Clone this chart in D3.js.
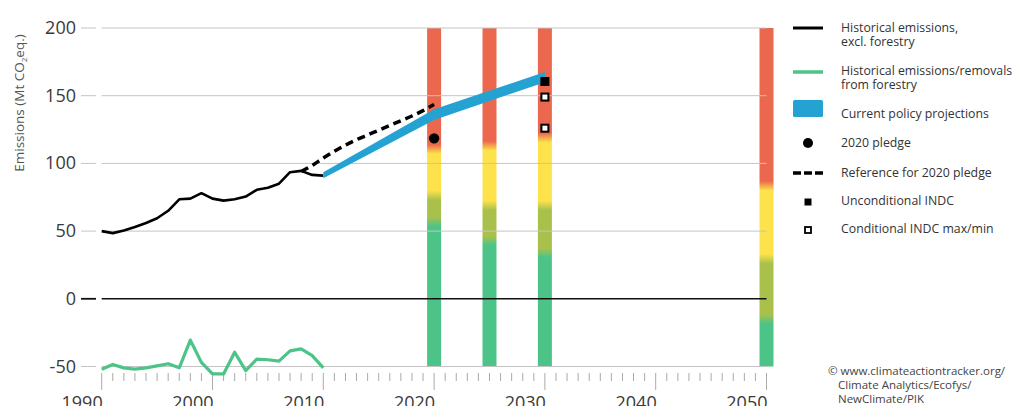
<!DOCTYPE html>
<html><head><meta charset="utf-8">
<script src="https://cdn.jsdelivr.net/npm/d3@7"></script>
<style>
html,body{margin:0;padding:0;background:#fff;}
svg{display:block;font-family:"Open Sans",sans-serif;}
</style></head>
<body><svg id="c" width="1012" height="406"></svg>
<script>
// ---- data ----
const histYears = [1990,1991,1992,1993,1994,1995,1996,1997,1998,1999,2000,2001,2002,2003,2004,2005,2006,2007,2008,2009,2010];
const histExclForestry = [50,48.5,50.5,53,56,59.5,65,73.5,74,78,74,72.5,73.5,75.5,80.5,82,85,93.5,94.5,91.5,91];
const forestry = [-52,-48.5,-51,-52,-51,-49.5,-48,-51,-30.5,-47,-55.5,-55.5,-39.5,-53,-44.5,-45,-46,-38.5,-37,-42,-51];
const refYears = [2008,2009,2010,2011,2012,2013,2014,2015,2016,2017,2018,2019,2020];
const refPledge = [94,98.5,104,109,113.5,117.5,121,124.5,128,131.5,135,139,143.5];
const cppYears = [2010,2020,2030];
const cppLow = [89,132,160];
const cppHigh = [93.5,140,167.5];
const pledgeYear = [2020];
const pledgeValue = [118.5];
const indcYear = [2030];
const indcUncond = [160.5];
const indcCond = [149,126];
const barYears = [2020,2025,2030,2050];
const barRedYellow = [110.5,113,119,83.5];
const barYellowOlive = [76.5,69,69,29.5];
const barOliveGreen = [57,43,34,-15];
const yTicks = [200,150,100,50,0,-50];
const xLabelYears = [1990,2000,2010,2020,2030,2040,2050];
const legendLabels = [["Historical emissions,","excl. forestry"],["Historical emissions/removals,","from forestry"],["Current policy projections"],["2020 pledge"],["Reference for 2020 pledge"],["Unconditional INDC"],["Conditional INDC max/min"]];
const creditLines = ["© www.climateactiontracker.org/","Climate Analytics/Ecofys/","NewClimate/PIK"];

const C = {red:"#EB684F",yellow:"#FDE24B",olive:"#A9C14B",green:"#4DC487",blue:"#24A3D3",hist:"#000",forest:"#4DC487",grid:"#c4c4c4"};

const svg = d3.select("#c");
const x = d3.scaleLinear().domain([1990,2050]).range([101.7,766.5]);
const y = d3.scaleLinear().domain([-50,200]).range([366.5,28]);

// bars with gradients
const defs = svg.append("defs");
const h = 3.5;
barYears.forEach((yr,i)=>{
  const g = defs.append("linearGradient").attr("id","bg"+i)
    .attr("gradientUnits","userSpaceOnUse").attr("x1",0).attr("x2",0)
    .attr("y1",y(200)).attr("y2",y(-50));
  const off = v => (y(v)-y(200))/(y(-50)-y(200));
  const stops = [[200,C.red],[barRedYellow[i]+h,C.red],[barRedYellow[i]-h,C.yellow],
    [barYellowOlive[i]+h,C.yellow],[barYellowOlive[i]-h,C.olive],
    [barOliveGreen[i]+h,C.olive],[barOliveGreen[i]-h,C.green],[-50,C.green]];
  stops.forEach(s=>g.append("stop").attr("offset",off(s[0])).attr("stop-color",s[1]));
});
svg.append("g").selectAll("rect").data(barYears).join("rect")
  .attr("x",d=>x(d)-7).attr("width",14)
  .attr("y",y(200)).attr("height",y(-50)-y(200))
  .attr("fill",(d,i)=>"url(#bg"+i+")");

// gridlines
svg.append("g").selectAll("line").data(yTicks).join("line")
  .attr("x1",x(1990)).attr("x2",x(2050))
  .attr("y1",d=>y(d)).attr("y2",d=>y(d))
  .attr("stroke",d=>d===0?"#111":C.grid)
  .attr("stroke-width",d=>d===0?1.6:1);
// y tick marks
svg.append("g").selectAll("line").data(yTicks).join("line")
  .attr("x1",81).attr("x2",96)
  .attr("y1",d=>y(d)).attr("y2",d=>y(d))
  .attr("stroke",d=>d===0?"#111":C.grid)
  .attr("stroke-width",d=>d===0?1.8:1);
// y tick labels
svg.append("g").selectAll("text").data(yTicks).join("text")
  .attr("x",76).attr("y",d=>y(d)+6)
  .attr("text-anchor","end").attr("font-size",18).attr("fill","#3a3a3a")
  .text(d=>d);
// y title
const yt = svg.append("text").attr("transform","translate(24,103) rotate(-90)")
  .attr("text-anchor","middle").attr("font-size",13.5).attr("fill","#555");
yt.append("tspan").text("Emissions (Mt CO");
yt.append("tspan").attr("font-size",8).attr("dy",3).text("2");
yt.append("tspan").attr("dy",-3).text("eq.)");

// x ticks
const minorYears = d3.range(1990,2051);
svg.append("g").selectAll("line").data(minorYears).join("line")
  .attr("x1",d=>x(d)).attr("x2",d=>x(d))
  .attr("y1",373).attr("y2",d=>d%10===0?390:381)
  .attr("stroke","#aaa").attr("stroke-width",1);
svg.append("g").selectAll("text").data(xLabelYears).join("text")
  .attr("x",d=>x(d)+1).attr("y",409)
  .attr("text-anchor","end").attr("font-size",18).attr("fill","#3a3a3a")
  .text(d=>d);

// forestry line
svg.append("path").datum(histYears.map((d,i)=>[d,forestry[i]]))
  .attr("fill","none").attr("stroke",C.forest).attr("stroke-width",3.2)
  .attr("stroke-linejoin","round")
  .attr("d",d3.line().x(d=>x(d[0])).y(d=>y(d[1])));
// reference dashed
svg.append("path").datum(refYears.map((d,i)=>[d,refPledge[i]]))
  .attr("fill","none").attr("stroke","#000").attr("stroke-width",3.5)
  .attr("stroke-dasharray","8,5")
  .attr("d",d3.line().curve(d3.curveMonotoneX).x(d=>x(d[0])).y(d=>y(d[1])));
// historical line
svg.append("path").datum(histYears.map((d,i)=>[d,histExclForestry[i]]))
  .attr("fill","none").attr("stroke",C.hist).attr("stroke-width",2.6)
  .attr("stroke-linejoin","round")
  .attr("d",d3.line().x(d=>x(d[0])).y(d=>y(d[1])));
// current policy band
svg.append("path").datum(cppYears.map((d,i)=>[d,cppLow[i],cppHigh[i]]))
  .attr("fill",C.blue)
  .attr("d",d3.area().x(d=>x(d[0])).y0(d=>y(d[1])).y1(d=>y(d[2])));
// pledge
svg.append("g").selectAll("circle").data(pledgeYear).join("circle")
  .attr("cx",d=>x(d)).attr("cy",(d,i)=>y(pledgeValue[i])).attr("r",5.2).attr("fill","#000");
// INDC squares
svg.append("g").selectAll("rect").data(indcUncond).join("rect")
  .attr("x",x(indcYear[0])-4.5).attr("y",d=>y(d)-4.5).attr("width",9).attr("height",9).attr("fill","#000");
svg.append("g").selectAll("rect").data(indcCond).join("rect")
  .attr("x",x(indcYear[0])-3.5).attr("y",d=>y(d)-3.5).attr("width",7).attr("height",7)
  .attr("fill","#fff").attr("stroke","#000").attr("stroke-width",2);

// legend
const lg = svg.append("g");
const lx0 = 793, lx1 = 823, tx = 841;
const rowY = [28,72,108,143,173,202,230];
lg.append("line").attr("x1",lx0).attr("x2",lx1).attr("y1",rowY[0]).attr("y2",rowY[0]).attr("stroke","#000").attr("stroke-width",3);
lg.append("line").attr("x1",lx0).attr("x2",lx1).attr("y1",rowY[1]).attr("y2",rowY[1]).attr("stroke",C.forest).attr("stroke-width",3.5);
lg.append("rect").attr("x",lx0).attr("y",rowY[2]-8).attr("width",30).attr("height",17).attr("rx",1.5).attr("fill",C.blue);
lg.append("circle").attr("cx",808).attr("cy",rowY[3]).attr("r",5).attr("fill","#000");
lg.append("line").attr("x1",lx0).attr("x2",lx1).attr("y1",rowY[4]).attr("y2",rowY[4]).attr("stroke","#000").attr("stroke-width",3.5).attr("stroke-dasharray","8,3");
lg.append("rect").attr("x",804.5).attr("y",rowY[5]-3.5).attr("width",7).attr("height",7).attr("fill","#000");
lg.append("rect").attr("x",805).attr("y",rowY[6]-3).attr("width",6).attr("height",6).attr("fill","#fff").attr("stroke","#000").attr("stroke-width",1.8);
const textTop = [32,75,118,147,177,205,233];
legendLabels.forEach((lines,i)=>{
  const t = lg.append("text").attr("x",tx).attr("y",textTop[i]).attr("font-size",12.3).attr("fill","#333");
  lines.forEach((s,j)=>t.append("tspan").attr("x",tx).attr("dy",j===0?0:13.5).text(s));
});

// credit
const cr = svg.append("text").attr("font-size",11.5).attr("fill","#444");
creditLines.forEach((s,j)=>cr.append("tspan").attr("x",j===0?828:838).attr("y",375+j*14).text(s));
</script></body></html>
